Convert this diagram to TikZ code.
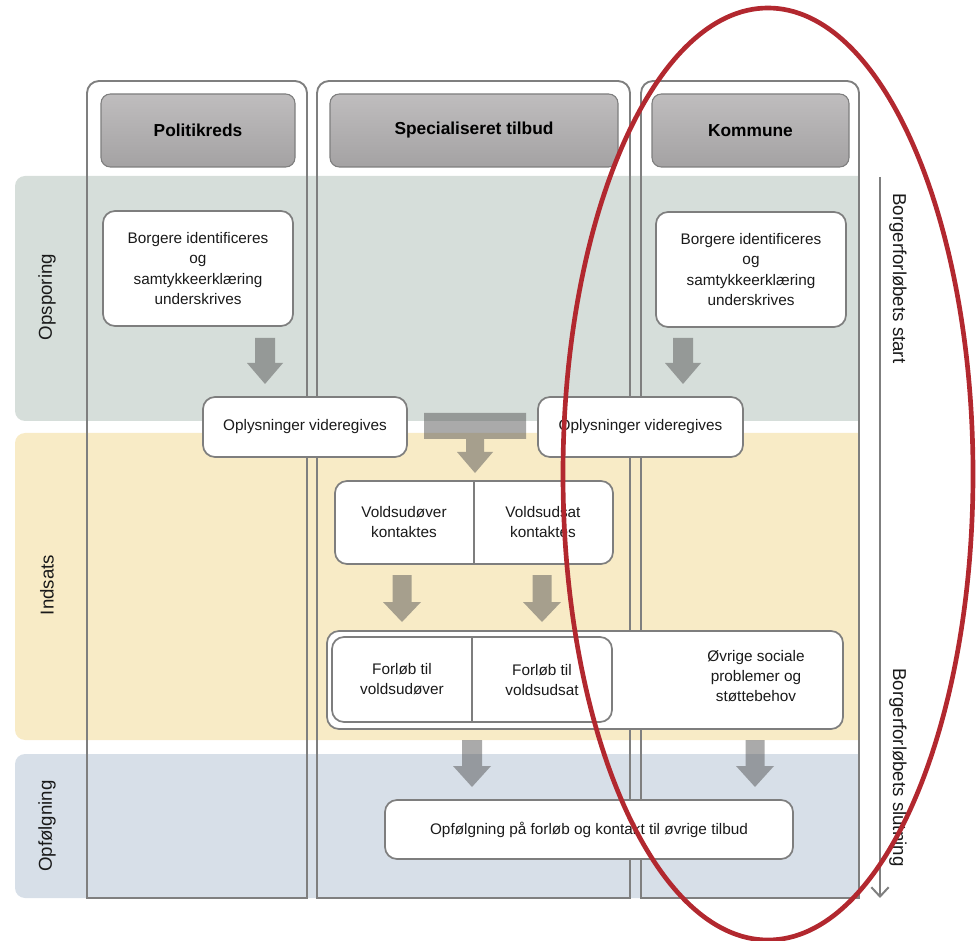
\documentclass[tikz,border=0pt]{standalone}
\usepackage{fontspec}
\setmainfont{Liberation Sans}
\usetikzlibrary{fit,arrows.meta}
\definecolor{bandA}{HTML}{D6DEDA}
\definecolor{bandB}{HTML}{F8EBC6}
\definecolor{bandC}{HTML}{D7DFE8}
\definecolor{lineg}{HTML}{7F7F7F}
\definecolor{boxline}{HTML}{7E7E7E}
\definecolor{hdrtop}{HTML}{BFBDBE}
\definecolor{hdrbot}{HTML}{A4A2A3}
\definecolor{arrowg}{HTML}{555555}
\definecolor{ellred}{HTML}{B2282F}
\definecolor{txtc}{HTML}{1A1A1A}
\newcommand\blockarrow[6]{%
  \fill[arrowfill] (#1-#5,#2) -- (#1+#5,#2) -- (#1+#5,#3) -- (#1+#6,#3) -- (#1,#4) -- (#1-#6,#3) -- (#1-#5,#3) -- cycle;}
\begin{document}
\begin{tikzpicture}[x=0.75pt,y=-0.75pt,
  colframe/.style={draw=lineg,line width=1.4pt},
  box/.style={draw=boxline,line width=1.3pt,fill=white,rounded corners=9pt,inner sep=0pt},
  txt/.style={align=center,text=txtc,inner sep=0pt,font=\fontsize{11.5}{15.3}\selectfont},
  hdr/.style={draw=boxline,line width=0.8pt,rounded corners=7pt,top color=hdrtop,bottom color=hdrbot,inner sep=0pt},
  hdrtxt/.style={inner sep=0pt,text=black,font=\fontsize{13}{15}\selectfont\bfseries},
  side/.style={inner sep=0pt,text=txtc,font=\fontsize{14}{16}\selectfont},
  arrowfill/.style={fill=arrowg,fill opacity=0.5},
  divider/.style={draw=boxline,line width=1.3pt}]
\useasboundingbox (0,0) rectangle (979,941);
% bands
\fill[bandA] (858,176) -- (25,176) arc[start angle=90,end angle=180,radius=7.5pt] -- (15,411) arc[start angle=180,end angle=270,radius=7.5pt] -- (858,421) -- cycle;
\fill[bandB] (858,433) -- (25,433) arc[start angle=90,end angle=180,radius=7.5pt] -- (15,730) arc[start angle=180,end angle=270,radius=7.5pt] -- (858,740) -- cycle;
\fill[bandC] (858,754) -- (25,754) arc[start angle=90,end angle=180,radius=7.5pt] -- (15,888) arc[start angle=180,end angle=270,radius=7.5pt] -- (858,898) -- cycle;
% band labels
\node[side,rotate=90] (lA) at (47,297) {Opsporing};
\node[side,rotate=90] (lB) at (47,585) {Indsats};
\node[side,rotate=90] (lC) at (47,826) {Opfølgning};
% columns
\draw[colframe] (87,898) -- (87,93) arc[start angle=180,end angle=90,radius=9pt] -- (295,81) arc[start angle=90,end angle=0,radius=9pt] -- (307,898) -- cycle;
\draw[colframe] (317,898) -- (317,93) arc[start angle=180,end angle=90,radius=9pt] -- (618,81) arc[start angle=90,end angle=0,radius=9pt] -- (630,898) -- cycle;
\draw[colframe] (641,898) -- (641,93) arc[start angle=180,end angle=90,radius=9pt] -- (847,81) arc[start angle=90,end angle=0,radius=9pt] -- (859,898) -- cycle;
% headers
\node[hdr,fit={(101,94)(295,167)}] (h1) {};
\node[hdrtxt] (h1t) at (h1.center) {Politikreds};
\node[hdr,fit={(330,94)(618,167)}] (h2) {};
\node[hdrtxt] (h2t) at (h2.center) {Specialiseret tilbud};
\node[hdr,fit={(652,94)(849,167)}] (h3) {};
\node[hdrtxt] (h3t) at (h3.center) {Kommune};
% boxes
\node[box,fit={(103,211)(293,326)}] (pbox) {};
\node[txt] (pboxt) at (pbox.center) {Borgere identificeres\\og\\samtykkeerklæring\\underskrives};
\node[box,fit={(656,212)(846,327)}] (kbox) {};
\node[txt] (kboxt) at (kbox.center) {Borgere identificeres\\og\\samtykkeerklæring\\underskrives};
\blockarrow{265}{338}{363}{384}{10}{18}
\blockarrow{683}{338}{363}{384}{10}{18}
\node[box,fit={(203,397)(407,457)}] (opl1) {};
\node[txt] (opl1t) at (opl1.center) {Oplysninger videregives};
\node[box,fit={(538,397)(743,457)}] (opl2) {};
\node[txt] (opl2t) at (opl2.center) {Oplysninger videregives};
\fill[arrowfill] (424,413) -- (526,413) -- (526,439) -- (484,439) -- (484,452) -- (493,452) -- (475,473) -- (457,452) -- (466,452) -- (466,439) -- (424,439) -- cycle;
\node[box,fit={(335,481)(613,564)}] (vbox) {};
\draw[divider] (vbox.north) -- (vbox.south);
\node[txt] (v1) at (404,522) {Voldsudøver\\kontaktes};
\node[txt] (v2) at (543,522) {Voldsudsat\\kontaktes};
\blockarrow{402}{575}{602}{622}{9.5}{19}
\blockarrow{542}{575}{602}{622}{9.5}{19}
\node[box,fit={(327,631)(843,729)}] (big) {};
\node[box,fit={(332,637)(612,722)}] (fbox) {};
\draw[divider] (fbox.north) -- (fbox.south);
\node[txt] (f1) at (402,679) {Forløb til\\voldsudøver};
\node[txt] (f2) at (542,680) {Forløb til\\voldsudsat};
\node[txt] (ovr) at (756,676) {Øvrige sociale\\problemer og\\støttebehov};
\blockarrow{472}{740}{766}{787}{10}{19}
\blockarrow{755}{740}{766}{787}{9.5}{19}
\node[box,fit={(385,800)(793,859)}] (opf) {};
\node[txt] (opft) at (opf.center) {Opfølgning på forløb og kontakt til øvrige tilbud};
% side arrow
\coordinate (sA) at (880,177);
\coordinate (sB) at (880,898);
\draw[lineg,line width=1.5pt,-{Straight Barb[length=7pt,width=13pt]}] (sA) -- (sB);
\node[side,rotate=-90,anchor=west] (st1) at (898,193) {Borgerforløbets start};
\node[side,rotate=-90,anchor=west] (st2) at (898,668) {Borgerforløbets slutning};
% red ellipse
\draw[ellred,line width=3.5pt] (768,474) ellipse [x radius=153.75pt,y radius=349.5pt];
\end{tikzpicture}
\end{document}
